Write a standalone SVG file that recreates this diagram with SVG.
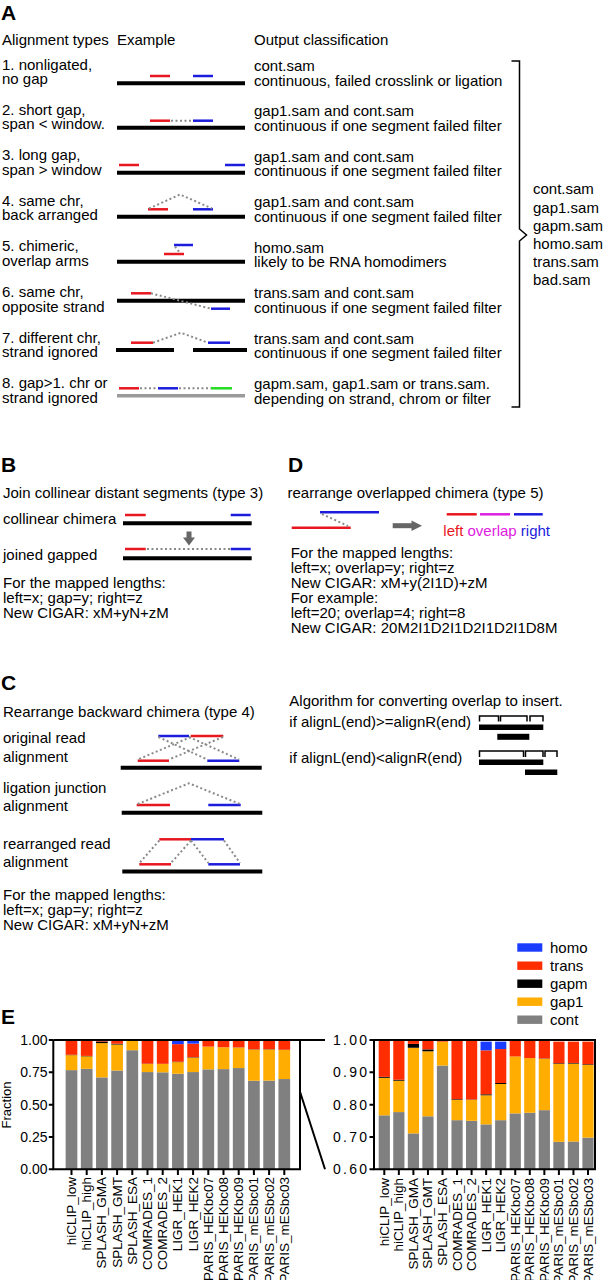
<svg xmlns="http://www.w3.org/2000/svg" width="606" height="1280" viewBox="0 0 606 1280">
<style>
text{font-family:"Liberation Sans",Arial,sans-serif;font-size:15px;fill:#000}
.lab{font-weight:bold;font-size:21px}
.blk{stroke:#000;stroke-width:4}
.gry{stroke:#9a9a9a;stroke-width:3.5}
.r{stroke:#e8161e;stroke-width:2.5}
.b{stroke:#1c1cdc;stroke-width:2.5}
.gr{stroke:#22dd22;stroke-width:2.5}
.mg{stroke:#e020e0;stroke-width:2.5}
.dot{stroke:#8a8a8a;stroke-width:2;stroke-dasharray:2 2.5;fill:none}
.ax{stroke:#000;stroke-width:2;fill:none}
.br{stroke:#000;stroke-width:1.5;fill:none}
.c{fill:#808080}.g1{fill:#ffad00}.gm{fill:#000}.tr{fill:#ff2d00}.ho{fill:#1a3cff}
.tk{font-size:14px}
.cat{font-size:13.5px}
</style>
<rect width="606" height="1280" fill="#fff"/>

<g id="panelA">
<text x="1" y="20" class="lab">A</text>
<text x="2" y="45">Alignment types</text>
<text x="117" y="45">Example</text>
<text x="254" y="45">Output classification</text>
<g id="typeLabels">
<text x="2" y="69.5">1. nonligated,</text><text x="2" y="84">no gap</text>
<text x="2" y="114.5">2. short gap,</text><text x="2" y="129">span &lt; window.</text>
<text x="2" y="160">3. long gap,</text><text x="2" y="174.5">span &gt; window</text>
<text x="2" y="205.5">4. same chr,</text><text x="2" y="220">back arranged</text>
<text x="2" y="251">5. chimeric,</text><text x="2" y="265.5">overlap arms</text>
<text x="2" y="297">6. same chr,</text><text x="2" y="311.5">opposite strand</text>
<text x="2" y="342.5">7. different chr,</text><text x="2" y="357">strand ignored</text>
<text x="2" y="388">8. gap&gt;1. chr or</text><text x="2" y="402.5">strand ignored</text>
</g>
<g id="classLabels">
<text x="254" y="71">cont.sam</text><text x="254" y="85.5">continuous, failed crosslink or ligation</text>
<text x="254" y="116">gap1.sam and cont.sam</text><text x="254" y="130.5">continuous if one segment failed filter</text>
<text x="254" y="161.5">gap1.sam and cont.sam</text><text x="254" y="176">continuous if one segment failed filter</text>
<text x="254" y="207">gap1.sam and cont.sam</text><text x="254" y="221.5">continuous if one segment failed filter</text>
<text x="254" y="252.5">homo.sam</text><text x="254" y="267">likely to be RNA homodimers</text>
<text x="254" y="298">trans.sam and cont.sam</text><text x="254" y="312.5">continuous if one segment failed filter</text>
<text x="254" y="343.5">trans.sam and cont.sam</text><text x="254" y="358">continuous if one segment failed filter</text>
<text x="254" y="389">gapm.sam, gap1.sam or trans.sam.</text><text x="254" y="403.5">depending on strand, chrom or filter</text>
</g>
<path id="bracket" class="br" d="M511.5,61 H519.5 V229 L526.5,235 L519.5,241 V407 H511.5"/>
<g id="outputList">
<text x="533" y="194.3">cont.sam</text>
<text x="533" y="212.5">gap1.sam</text>
<text x="533" y="230.7">gapm.sam</text>
<text x="533" y="248.9">homo.sam</text>
<text x="533" y="267.1">trans.sam</text>
<text x="533" y="285.3">bad.sam</text>
</g>
<g id="examples">
<line class="blk" x1="117" y1="83.3" x2="245" y2="83.3"/>
<line class="r" x1="150" y1="76" x2="170" y2="76"/><line class="b" x1="193" y1="76" x2="213" y2="76"/>

<line class="blk" x1="117" y1="127.7" x2="245" y2="127.7"/>
<line class="r" x1="150" y1="120.7" x2="170" y2="120.7"/><line class="b" x1="193" y1="120.7" x2="213" y2="120.7"/>

<line class="blk" x1="117" y1="172.7" x2="245" y2="172.7"/>
<line class="r" x1="119" y1="165" x2="139" y2="165"/><line class="b" x1="225" y1="165" x2="245" y2="165"/>

<line class="blk" x1="117" y1="216.7" x2="245" y2="216.7"/>
<line class="r" x1="148" y1="209.3" x2="168" y2="209.3"/><line class="b" x1="193" y1="209.3" x2="213" y2="209.3"/>

<line class="blk" x1="117" y1="261.7" x2="245" y2="261.7"/>
<line class="b" x1="174" y1="245" x2="193" y2="245"/><line class="r" x1="164" y1="254" x2="184" y2="254"/>

<line class="blk" x1="117" y1="300.7" x2="245" y2="300.7"/>
<line class="r" x1="131" y1="293.3" x2="151" y2="293.3"/><line class="b" x1="211" y1="308.7" x2="230" y2="308.7"/>

<line class="blk" x1="116" y1="350" x2="174" y2="350"/><line class="blk" x1="193" y1="350" x2="247" y2="350"/>
<line class="r" x1="131" y1="342.7" x2="153" y2="342.7"/><line class="b" x1="208" y1="342.7" x2="230" y2="342.7"/>

<line class="gry" x1="117" y1="395.7" x2="245" y2="395.7"/>
<line class="r" x1="119" y1="388.3" x2="139" y2="388.3"/><line class="b" x1="158" y1="388.3" x2="178" y2="388.3"/><line class="gr" x1="211" y1="388.3" x2="232" y2="388.3"/>
</g>
<g id="connectorsA">
<line class="dot" x1="171" y1="120.7" x2="193" y2="120.7"/>
<polyline class="dot" points="149,208.5 180,194.5 212,208.5"/>
<line class="dot" x1="175" y1="246.5" x2="180" y2="253"/>
<line class="dot" x1="151" y1="293.3" x2="211" y2="308.7"/>
<polyline class="dot" points="153,342.7 181,332.7 208,342.7"/>
<line class="dot" x1="140" y1="388.3" x2="158" y2="388.3"/>
<line class="dot" x1="179" y1="388.3" x2="211" y2="388.3"/>
</g>
</g>

<g id="panelB">
<text x="1" y="471.7" class="lab">B</text>
<text x="3" y="498">Join collinear distant segments (type 3)</text>
<text x="3" y="524">collinear chimera</text>
<line class="blk" x1="123" y1="523.3" x2="251.7" y2="523.3"/>
<line class="r" x1="125" y1="515" x2="145.7" y2="515"/><line class="b" x1="230.7" y1="515" x2="250.7" y2="515"/>
<rect x="186.5" y="531.5" width="5" height="6.5" fill="#666"/>
<polygon points="183,537.5 195,537.5 189,545.5" fill="#666"/>
<text x="3" y="560">joined gapped</text>
<line class="r" x1="125" y1="549" x2="145.7" y2="549"/>
<line class="dot" x1="147" y1="549" x2="230" y2="549"/>
<line class="b" x1="230.7" y1="549" x2="250.7" y2="549"/>
<line class="blk" x1="123" y1="558.3" x2="251.7" y2="558.3"/>
<text x="3" y="588">For the mapped lengths:</text>
<text x="3" y="603">left=x; gap=y; right=z</text>
<text x="3" y="618">New CIGAR: xM+yN+zM</text>
</g>

<g id="panelD">
<text x="288" y="472" class="lab">D</text>
<text x="287.5" y="498">rearrange overlapped chimera (type 5)</text>
<line class="b" x1="320" y1="512.3" x2="379" y2="512.3"/>
<line class="r" x1="291.7" y1="527.7" x2="350.7" y2="527.7"/>
<line class="dot" x1="322" y1="514" x2="348" y2="526"/>
<rect x="392.7" y="523.2" width="20" height="5" fill="#666"/>
<polygon points="411.5,520.5 422,525.7 411.5,531" fill="#666"/>
<line class="r" x1="446.7" y1="514.3" x2="476.7" y2="514.3"/>
<line class="mg" x1="480" y1="514.3" x2="510" y2="514.3"/>
<line class="b" x1="514" y1="514.3" x2="542.7" y2="514.3"/>
<text x="443.3" y="535.5"><tspan fill="#e8161e">left</tspan> <tspan fill="#e020e0">overlap</tspan> <tspan fill="#1c1cdc">right</tspan></text>
<text x="290.7" y="558.3">For the mapped lengths:</text>
<text x="290.7" y="573.3">left=x; overlap=y; right=z</text>
<text x="290.7" y="588.3">New CIGAR: xM+y(2I1D)+zM</text>
<text x="290.7" y="603.3">For example:</text>
<text x="290.7" y="618.3">left=20; overlap=4; right=8</text>
<text x="290.7" y="633.3">New CIGAR: 20M2I1D2I1D2I1D2I1D8M</text>
</g>

<g id="panelC">
<text x="1" y="690" class="lab">C</text>
<text x="3" y="717.3">Rearrange backward chimera (type 4)</text>
<text x="3" y="743.3">original read</text><text x="3" y="761.5">alignment</text>
<line class="blk" x1="120.7" y1="767.7" x2="261.7" y2="767.7"/>
<line class="b" x1="158.3" y1="736" x2="189" y2="736"/><line class="r" x1="190.7" y1="736" x2="223.3" y2="736"/>
<line class="r" x1="137.7" y1="760.7" x2="169" y2="760.7"/><line class="b" x1="207.3" y1="760.7" x2="239.3" y2="760.7"/>
<g class="connC">
<line class="dot" x1="190.7" y1="737" x2="138" y2="759.5"/>
<line class="dot" x1="223" y1="737" x2="169" y2="759.5"/>
<line class="dot" x1="158.5" y1="737" x2="207.3" y2="759.5"/>
<line class="dot" x1="189" y1="737" x2="239" y2="759.5"/>
</g>
<text x="3" y="793.3">ligation junction</text><text x="3" y="811">alignment</text>
<line class="blk" x1="121.7" y1="812.7" x2="262.3" y2="812.7"/>
<line class="r" x1="136.7" y1="805" x2="170" y2="805"/><line class="b" x1="208.3" y1="805" x2="240.7" y2="805"/>
<polyline class="dot" points="137.7,804 189,783.3 240,804"/>
<text x="3" y="849">rearranged read</text><text x="3" y="867">alignment</text>
<line class="blk" x1="122.3" y1="871.5" x2="262.3" y2="871.5"/>
<line class="r" x1="159.3" y1="839.3" x2="191" y2="839.3"/><line class="b" x1="191" y1="839.3" x2="224" y2="839.3"/>
<line class="r" x1="139.3" y1="864.3" x2="171" y2="864.3"/><line class="b" x1="208.3" y1="864.3" x2="240" y2="864.3"/>
<g class="connC">
<line class="dot" x1="159.3" y1="840.5" x2="139.5" y2="863"/>
<line class="dot" x1="191" y1="840.5" x2="171" y2="863"/>
<line class="dot" x1="191" y1="840.5" x2="208.3" y2="863"/>
<line class="dot" x1="224" y1="840.5" x2="240" y2="863"/>
</g>
<text x="3" y="900">For the mapped lengths:</text>
<text x="3" y="915">left=x; gap=y; right=z</text>
<text x="3" y="930">New CIGAR: xM+yN+zM</text>
</g>

<g id="algorithm">
<text x="289.3" y="706">Algorithm for converting overlap to insert.</text>
<text x="289.3" y="726.7">if alignL(end)&gt;=alignR(end)</text>
<path class="br" stroke-width="1.3" d="M479.5,721.5 V716 H498.5 V721.5 M500.5,721.5 V716 H527 V721.5 M530,721.5 V716 H543 V721.5"/>
<rect x="479" y="724.5" width="64.3" height="5.5"/>
<rect x="497.3" y="733.8" width="32" height="6"/>
<text x="289.3" y="763.3">if alignL(end)&lt;alignR(end)</text>
<path class="br" stroke-width="1.3" d="M479.5,757 V751 H523.5 V757 M525.5,757 V751 H543 V757 M545,757 V751 H557 V757"/>
<rect x="479" y="759.5" width="64.3" height="5.5"/>
<rect x="525" y="769.5" width="32.3" height="5.5"/>
</g>

<g id="panelE">
<text x="1" y="1024" class="lab">E</text>
<g id="legend">
<rect class="ho" x="517.3" y="943.3" width="25" height="8.4"/><text x="550" y="952.5">homo</text>
<rect class="tr" x="517.3" y="961.5" width="25" height="8.4"/><text x="550" y="970.5">trans</text>
<rect class="gm" x="517.3" y="979.5" width="25" height="8.4"/><text x="550" y="988.5">gapm</text>
<rect class="g1" x="517.3" y="997.5" width="25" height="8.4"/><text x="550" y="1006.5">gap1</text>
<rect class="c" x="517.3" y="1015.5" width="25" height="8.4"/><text x="550" y="1024.5">cont</text>
</g>

<g id="leftBars" transform="matrix(1,0,0,-129.3,0,1169.3)">
<rect class="c" x="65.65" y="0" width="11.7" height=".767"/><rect class="g1" x="65.65" y=".767" width="11.7" height=".116"/><rect class="gm" x="65.65" y=".883" width="11.7" height=".003"/><rect class="tr" x="65.65" y=".886" width="11.7" height=".114"/>
<rect class="c" x="80.85" y="0" width="11.7" height=".777"/><rect class="g1" x="80.85" y=".777" width="11.7" height=".097"/><rect class="gm" x="80.85" y=".874" width="11.7" height=".003"/><rect class="tr" x="80.85" y=".877" width="11.7" height=".123"/>
<rect class="c" x="96.05" y="0" width="11.7" height=".711"/><rect class="g1" x="96.05" y=".711" width="11.7" height=".265"/><rect class="gm" x="96.05" y=".976" width="11.7" height=".012"/><rect class="tr" x="96.05" y=".988" width="11.7" height=".010"/>
<rect class="c" x="111.25" y="0" width="11.7" height=".764"/><rect class="g1" x="111.25" y=".764" width="11.7" height=".201"/><rect class="gm" x="111.25" y=".965" width="11.7" height=".006"/><rect class="tr" x="111.25" y=".971" width="11.7" height=".029"/>
<rect class="c" x="126.45" y="0" width="11.7" height=".921"/><rect class="g1" x="126.45" y=".921" width="11.7" height=".074"/><rect class="tr" x="126.45" y=".995" width="11.7" height=".004"/>
<rect class="c" x="141.65" y="0" width="11.7" height=".752"/><rect class="g1" x="141.65" y=".752" width="11.7" height=".063"/><rect class="gm" x="141.65" y=".815" width="11.7" height=".002"/><rect class="tr" x="141.65" y=".817" width="11.7" height=".183"/>
<rect class="c" x="156.85" y="0" width="11.7" height=".750"/><rect class="g1" x="156.85" y=".750" width="11.7" height=".065"/><rect class="gm" x="156.85" y=".815" width="11.7" height=".001"/><rect class="tr" x="156.85" y=".816" width="11.7" height=".184"/>
<rect class="c" x="172.05" y="0" width="11.7" height=".739"/><rect class="g1" x="172.05" y=".739" width="11.7" height=".090"/><rect class="gm" x="172.05" y=".829" width="11.7" height=".003"/><rect class="tr" x="172.05" y=".832" width="11.7" height=".136"/><rect class="ho" x="172.05" y=".968" width="11.7" height=".027"/>
<rect class="c" x="187.25" y="0" width="11.7" height=".752"/><rect class="g1" x="187.25" y=".752" width="11.7" height=".112"/><rect class="gm" x="187.25" y=".864" width="11.7" height=".003"/><rect class="tr" x="187.25" y=".867" width="11.7" height=".105"/><rect class="ho" x="187.25" y=".972" width="11.7" height=".023"/>
<rect class="c" x="202.45" y="0" width="11.7" height=".773"/><rect class="g1" x="202.45" y=".773" width="11.7" height=".176"/><rect class="tr" x="202.45" y=".949" width="11.7" height=".050"/>
<rect class="c" x="217.65" y="0" width="11.7" height=".775"/><rect class="g1" x="217.65" y=".775" width="11.7" height=".169"/><rect class="tr" x="217.65" y=".944" width="11.7" height=".055"/>
<rect class="c" x="232.85" y="0" width="11.7" height=".783"/><rect class="g1" x="232.85" y=".783" width="11.7" height=".159"/><rect class="gm" x="232.85" y=".942" width="11.7" height=".001"/><rect class="tr" x="232.85" y=".943" width="11.7" height=".056"/>
<rect class="c" x="248.05" y="0" width="11.7" height=".685"/><rect class="g1" x="248.05" y=".685" width="11.7" height=".241"/><rect class="gm" x="248.05" y=".926" width="11.7" height=".002"/><rect class="tr" x="248.05" y=".928" width="11.7" height=".067"/>
<rect class="c" x="263.25" y="0" width="11.7" height=".686"/><rect class="g1" x="263.25" y=".686" width="11.7" height=".241"/><rect class="gm" x="263.25" y=".927" width="11.7" height=".002"/><rect class="tr" x="263.25" y=".929" width="11.7" height=".066"/>
<rect class="c" x="278.45" y="0" width="11.7" height=".698"/><rect class="g1" x="278.45" y=".698" width="11.7" height=".225"/><rect class="gm" x="278.45" y=".923" width="11.7" height=".002"/><rect class="tr" x="278.45" y=".925" width="11.7" height=".070"/>
</g>

<g id="rightBars" transform="matrix(1,0,0,-323.25,0,1169.3)">
<rect class="c" x="378.7" y="0" width="11.2" height=".167"/><rect class="g1" x="378.7" y=".167" width="11.2" height=".116"/><rect class="gm" x="378.7" y=".283" width="11.2" height=".003"/><rect class="tr" x="378.7" y=".286" width="11.2" height=".114"/>
<rect class="c" x="393.25" y="0" width="11.2" height=".177"/><rect class="g1" x="393.25" y=".177" width="11.2" height=".097"/><rect class="gm" x="393.25" y=".274" width="11.2" height=".003"/><rect class="tr" x="393.25" y=".277" width="11.2" height=".123"/>
<rect class="c" x="407.8" y="0" width="11.2" height=".111"/><rect class="g1" x="407.8" y=".111" width="11.2" height=".265"/><rect class="gm" x="407.8" y=".376" width="11.2" height=".012"/><rect class="tr" x="407.8" y=".388" width="11.2" height=".010"/>
<rect class="c" x="422.35" y="0" width="11.2" height=".164"/><rect class="g1" x="422.35" y=".164" width="11.2" height=".201"/><rect class="gm" x="422.35" y=".365" width="11.2" height=".006"/><rect class="tr" x="422.35" y=".371" width="11.2" height=".029"/>
<rect class="c" x="436.9" y="0" width="11.2" height=".321"/><rect class="g1" x="436.9" y=".321" width="11.2" height=".074"/><rect class="tr" x="436.9" y=".395" width="11.2" height=".004"/>
<rect class="c" x="451.45" y="0" width="11.2" height=".152"/><rect class="g1" x="451.45" y=".152" width="11.2" height=".063"/><rect class="gm" x="451.45" y=".215" width="11.2" height=".002"/><rect class="tr" x="451.45" y=".217" width="11.2" height=".183"/>
<rect class="c" x="466" y="0" width="11.2" height=".150"/><rect class="g1" x="466" y=".150" width="11.2" height=".065"/><rect class="gm" x="466" y=".215" width="11.2" height=".001"/><rect class="tr" x="466" y=".216" width="11.2" height=".184"/>
<rect class="c" x="480.55" y="0" width="11.2" height=".139"/><rect class="g1" x="480.55" y=".139" width="11.2" height=".090"/><rect class="gm" x="480.55" y=".229" width="11.2" height=".003"/><rect class="tr" x="480.55" y=".232" width="11.2" height=".136"/><rect class="ho" x="480.55" y=".368" width="11.2" height=".027"/>
<rect class="c" x="495.1" y="0" width="11.2" height=".152"/><rect class="g1" x="495.1" y=".152" width="11.2" height=".112"/><rect class="gm" x="495.1" y=".264" width="11.2" height=".003"/><rect class="tr" x="495.1" y=".267" width="11.2" height=".105"/><rect class="ho" x="495.1" y=".372" width="11.2" height=".023"/>
<rect class="c" x="509.65" y="0" width="11.2" height=".173"/><rect class="g1" x="509.65" y=".173" width="11.2" height=".176"/><rect class="tr" x="509.65" y=".349" width="11.2" height=".050"/>
<rect class="c" x="524.2" y="0" width="11.2" height=".175"/><rect class="g1" x="524.2" y=".175" width="11.2" height=".169"/><rect class="tr" x="524.2" y=".344" width="11.2" height=".055"/>
<rect class="c" x="538.75" y="0" width="11.2" height=".183"/><rect class="g1" x="538.75" y=".183" width="11.2" height=".159"/><rect class="gm" x="538.75" y=".342" width="11.2" height=".001"/><rect class="tr" x="538.75" y=".343" width="11.2" height=".056"/>
<rect class="c" x="553.3" y="0" width="11.2" height=".085"/><rect class="g1" x="553.3" y=".085" width="11.2" height=".241"/><rect class="gm" x="553.3" y=".326" width="11.2" height=".002"/><rect class="tr" x="553.3" y=".328" width="11.2" height=".067"/>
<rect class="c" x="567.85" y="0" width="11.2" height=".086"/><rect class="g1" x="567.85" y=".086" width="11.2" height=".241"/><rect class="gm" x="567.85" y=".327" width="11.2" height=".002"/><rect class="tr" x="567.85" y=".329" width="11.2" height=".066"/>
<rect class="c" x="582.4" y="0" width="11.2" height=".098"/><rect class="g1" x="582.4" y=".098" width="11.2" height=".225"/><rect class="gm" x="582.4" y=".323" width="11.2" height=".002"/><rect class="tr" x="582.4" y=".325" width="11.2" height=".070"/>
</g>

<g id="axes">
<path class="ax" d="M53.3,1040 V1169.3 H300 V1040 M53.3,1040 H325 M300,1091.7 L325,1169.3"/>
<path class="ax" d="M48.8,1040 H53.3 M48.8,1072.3 H53.3 M48.8,1104.65 H53.3 M48.8,1137 H53.3 M48.8,1169.3 H53.3"/>
<path class="ax" d="M71.5,1169.3 V1175 M86.7,1169.3 V1175 M101.9,1169.3 V1175 M117.1,1169.3 V1175 M132.3,1169.3 V1175 M147.5,1169.3 V1175 M162.7,1169.3 V1175 M177.9,1169.3 V1175 M193.1,1169.3 V1175 M208.3,1169.3 V1175 M223.5,1169.3 V1175 M238.7,1169.3 V1175 M253.9,1169.3 V1175 M269.1,1169.3 V1175 M284.3,1169.3 V1175"/>
<path class="ax" d="M374,1040 V1169.3 H595 V1040 Z"/>
<path class="ax" d="M369.5,1040 H374 M369.5,1072.3 H374 M369.5,1104.65 H374 M369.5,1137 H374 M369.5,1169.3 H374"/>
<path class="ax" d="M384.3,1169.3 V1175 M398.85,1169.3 V1175 M413.4,1169.3 V1175 M427.95,1169.3 V1175 M442.5,1169.3 V1175 M457.05,1169.3 V1175 M471.6,1169.3 V1175 M486.15,1169.3 V1175 M500.7,1169.3 V1175 M515.25,1169.3 V1175 M529.8,1169.3 V1175 M544.35,1169.3 V1175 M558.9,1169.3 V1175 M573.45,1169.3 V1175 M588,1169.3 V1175"/>
</g>
<g id="yLabels" class="tk" text-anchor="end">
<text x="47.5" y="1045" class="tk">1.00</text>
<text x="47.5" y="1077.3" class="tk">0.75</text>
<text x="47.5" y="1109.65" class="tk">0.50</text>
<text x="47.5" y="1142" class="tk">0.25</text>
<text x="47.5" y="1174.3" class="tk">0.00</text>
<text x="367" y="1045" class="tk" textLength="34" lengthAdjust="spacing">1.00</text>
<text x="367" y="1077.3" class="tk" textLength="34" lengthAdjust="spacing">0.90</text>
<text x="367" y="1109.65" class="tk" textLength="34" lengthAdjust="spacing">0.80</text>
<text x="367" y="1142" class="tk" textLength="34" lengthAdjust="spacing">0.70</text>
<text x="367" y="1174.3" class="tk" textLength="34" lengthAdjust="spacing">0.60</text>
</g>
<text transform="translate(11,1105) rotate(-90)" text-anchor="middle" style="font-size:13px">Fraction</text>
<g id="xLabelsLeft" text-anchor="end">
<text class="cat" transform="translate(76,1177) rotate(-90)">hiCLIP_low</text>
<text class="cat" transform="translate(91.2,1177) rotate(-90)">hiCLIP_high</text>
<text class="cat" transform="translate(106.4,1177) rotate(-90)">SPLASH_GMA</text>
<text class="cat" transform="translate(121.6,1177) rotate(-90)">SPLASH_GMT</text>
<text class="cat" transform="translate(136.8,1177) rotate(-90)">SPLASH_ESA</text>
<text class="cat" transform="translate(152,1177) rotate(-90)">COMRADES_1</text>
<text class="cat" transform="translate(167.2,1177) rotate(-90)">COMRADES_2</text>
<text class="cat" transform="translate(182.4,1177) rotate(-90)">LIGR_HEK1</text>
<text class="cat" transform="translate(197.6,1177) rotate(-90)">LIGR_HEK2</text>
<text class="cat" transform="translate(212.8,1177) rotate(-90)">PARIS_HEKbc07</text>
<text class="cat" transform="translate(228,1177) rotate(-90)">PARIS_HEKbc08</text>
<text class="cat" transform="translate(243.2,1177) rotate(-90)">PARIS_HEKbc09</text>
<text class="cat" transform="translate(258.4,1177) rotate(-90)">PARIS_mESbc01</text>
<text class="cat" transform="translate(273.6,1177) rotate(-90)">PARIS_mESbc02</text>
<text class="cat" transform="translate(288.8,1177) rotate(-90)">PARIS_mESbc03</text>
</g>
<g id="xLabelsRight" text-anchor="end">
<text class="cat" transform="translate(388.8,1178) rotate(-90)">hiCLIP_low</text>
<text class="cat" transform="translate(403.35,1178) rotate(-90)">hiCLIP_high</text>
<text class="cat" transform="translate(417.9,1178) rotate(-90)">SPLASH_GMA</text>
<text class="cat" transform="translate(432.45,1178) rotate(-90)">SPLASH_GMT</text>
<text class="cat" transform="translate(447,1178) rotate(-90)">SPLASH_ESA</text>
<text class="cat" transform="translate(461.55,1178) rotate(-90)">COMRADES_1</text>
<text class="cat" transform="translate(476.1,1178) rotate(-90)">COMRADES_2</text>
<text class="cat" transform="translate(490.65,1178) rotate(-90)">LIGR_HEK1</text>
<text class="cat" transform="translate(505.2,1178) rotate(-90)">LIGR_HEK2</text>
<text class="cat" transform="translate(519.75,1178) rotate(-90)">PARIS_HEKbc07</text>
<text class="cat" transform="translate(534.3,1178) rotate(-90)">PARIS_HEKbc08</text>
<text class="cat" transform="translate(548.85,1178) rotate(-90)">PARIS_HEKbc09</text>
<text class="cat" transform="translate(563.4,1178) rotate(-90)">PARIS_mESbc01</text>
<text class="cat" transform="translate(577.95,1178) rotate(-90)">PARIS_mESbc02</text>
<text class="cat" transform="translate(592.5,1178) rotate(-90)">PARIS_mESbc03</text>
</g>
</g>
</svg>
